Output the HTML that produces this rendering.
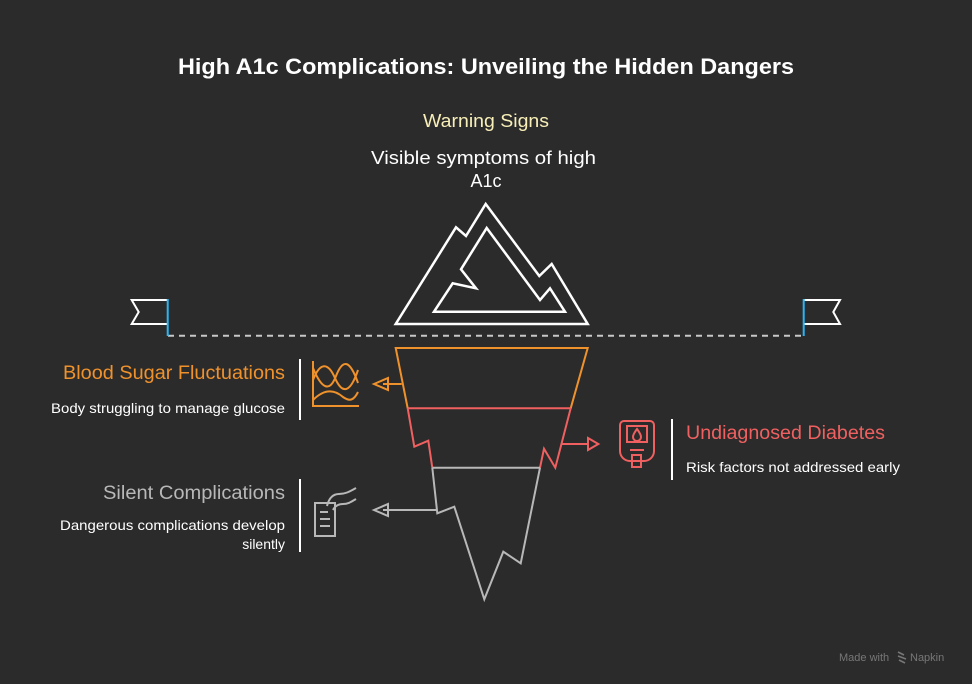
<!DOCTYPE html>
<html><head><meta charset="utf-8"><style>
html,body{margin:0;padding:0;background:#2b2b2b;}
svg{display:block;font-family:"Liberation Sans",sans-serif;}
</style></head><body>
<svg width="972" height="684" viewBox="0 0 972 684" xmlns="http://www.w3.org/2000/svg">
<rect width="972" height="684" fill="#2b2b2b"/>
<text x="178" y="74" font-size="22" font-weight="bold" fill="#ffffff" textLength="616" lengthAdjust="spacingAndGlyphs">High A1c Complications: Unveiling the Hidden Dangers</text>
<text x="423" y="127" font-size="18" fill="#f8efb8" textLength="126" lengthAdjust="spacingAndGlyphs">Warning Signs</text>
<text x="371" y="164" font-size="18" fill="#ffffff" textLength="225" lengthAdjust="spacingAndGlyphs">Visible symptoms of high</text>
<text x="486" y="187" font-size="18" fill="#ffffff" text-anchor="middle">A1c</text>

<g fill="none" stroke-width="2.5" stroke-linejoin="miter">
<polygon points="395.7,324 456,227.3 466,236 485.7,204 539.3,276 551.7,264 587.7,324" stroke="#ffffff"/>
<polygon points="434,311.7 452.7,283.3 476,288.3 461,269.3 486.7,228 540,300 550,288.3 565,311.7" stroke="#ffffff"/>
</g>
<line x1="168" y1="335.7" x2="805" y2="335.7" stroke="#c8c8c8" stroke-width="2" stroke-dasharray="6,5"/>
<!-- flags -->
<polyline points="167.7,300 131.7,300 138.7,312 131.7,324 167.7,324" fill="none" stroke="#ffffff" stroke-width="2"/>
<line x1="167.7" y1="299" x2="167.7" y2="336" stroke="#29b6f6" stroke-width="2"/>
<polyline points="803.7,300 840,300 833.3,312 840,324 803.7,324" fill="none" stroke="#ffffff" stroke-width="2"/>
<line x1="803.7" y1="299" x2="803.7" y2="336" stroke="#29b6f6" stroke-width="2"/>

<!-- iceberg underwater -->
<g fill="none" stroke-width="2">
<polyline points="407.7,408.3 395.7,348 587.7,348 570.7,408.3" stroke="#f0922c"/>
<polyline points="407.7,408.3 414.3,446.7 428.3,440.7 432.3,467.7" stroke="#f06060"/>
<polyline points="570.7,408.3 555.3,467.7 544,448.7 540,467.7" stroke="#f06060"/>
<line x1="407.7" y1="408.3" x2="570.7" y2="408.3" stroke="#f06060"/>
<polyline points="432.3,467.7 437.3,513.3 454.3,506.7 484.3,599.3 503.3,551.7 520.7,563.3 540,467.7" stroke="#b8b8b8"/>
<line x1="432.3" y1="467.7" x2="540" y2="467.7" stroke="#b8b8b8"/>
<!-- arrows -->
<line x1="401.7" y1="384" x2="383" y2="384" stroke="#f0922c"/>
<polygon points="374,384 388,378 388,390" stroke="#f0922c"/>
<line x1="562" y1="444" x2="588" y2="444" stroke="#f06060"/>
<polygon points="598.3,444 588,438 588,450" stroke="#f06060"/>
<line x1="437.3" y1="510" x2="383" y2="510" stroke="#b8b8b8"/>
<polygon points="374,510 388,504 388,516" stroke="#b8b8b8"/>
</g>

<!-- chart icon -->
<g fill="none" stroke="#f0922c" stroke-width="2">
<polyline points="313,361 313,406 359,406"/>
<path d="M313,380 C320,362 328,362 335,378 C342,394 350,394 358,370"/>
<path d="M313,368 C322,390 330,392 336,376 C343,358 350,360 358,383"/>
<path d="M313,400 C325,388 335,390 343,397 C350,402 354,400 358,392"/>
</g>
<!-- meter icon -->
<g fill="none" stroke="#f06060" stroke-width="2">
<path d="M624,421 h26 a4,4 0 0 1 4,4 v26 a10,10 0 0 1 -10,10 h-14 a10,10 0 0 1 -10,-10 v-26 a4,4 0 0 1 4,-4 z"/>
<rect x="627" y="426" width="20" height="16"/>
<path d="M637,429 c-3,4 -4,6 -4,8 a4,4 0 0 0 8,0 c0,-2 -1,-4 -4,-8z"/>
<line x1="630" y1="450" x2="644" y2="450"/>
<rect x="632" y="455" width="9" height="12"/>
</g>
<!-- doc icon -->
<g fill="none" stroke="#b8b8b8" stroke-width="2">
<path d="M315,503 h20 v33 h-20 z"/>
<line x1="320" y1="512" x2="328" y2="512"/><line x1="320" y1="519" x2="330" y2="519"/><line x1="320" y1="526" x2="330" y2="526"/>
<path d="M327,506 c2,-8 6,-12 12,-12 c6,0 10,-2 17,-6"/>
<path d="M333,510 c2,-4 5,-6 10,-6 c5,0 8,-2 13,-5"/>
</g>

<!-- left texts -->
<line x1="300" y1="359" x2="300" y2="420" stroke="#ffffff" stroke-width="2"/>
<text x="285" y="379" font-size="19" fill="#f0922c" text-anchor="end" textLength="222" lengthAdjust="spacingAndGlyphs">Blood Sugar Fluctuations</text>
<text x="285" y="413" font-size="14" fill="#ffffff" text-anchor="end" textLength="234" lengthAdjust="spacingAndGlyphs">Body struggling to manage glucose</text>
<line x1="300" y1="479" x2="300" y2="552" stroke="#ffffff" stroke-width="2"/>
<text x="285" y="499" font-size="19" fill="#b8b8b8" text-anchor="end" textLength="182" lengthAdjust="spacingAndGlyphs">Silent Complications</text>
<text x="285" y="530" font-size="14" fill="#ffffff" text-anchor="end" textLength="225" lengthAdjust="spacingAndGlyphs">Dangerous complications develop</text>
<text x="285" y="549" font-size="14" fill="#ffffff" text-anchor="end">silently</text>
<!-- right texts -->
<line x1="672" y1="419" x2="672" y2="480" stroke="#ffffff" stroke-width="2"/>
<text x="686" y="439" font-size="19" fill="#f06060" textLength="199" lengthAdjust="spacingAndGlyphs">Undiagnosed Diabetes</text>
<text x="686" y="472" font-size="14" fill="#ffffff" textLength="214" lengthAdjust="spacingAndGlyphs">Risk factors not addressed early</text>

<text x="839" y="661" font-size="11" fill="#777777">Made with</text>
<path d="M898,652 l6,3 M898,656 l8,3 M899,660 l6,3" stroke="#777777" stroke-width="1.6"/>
<text x="910" y="661" font-size="11" fill="#777777">Napkin</text>
</svg>
</body></html>
